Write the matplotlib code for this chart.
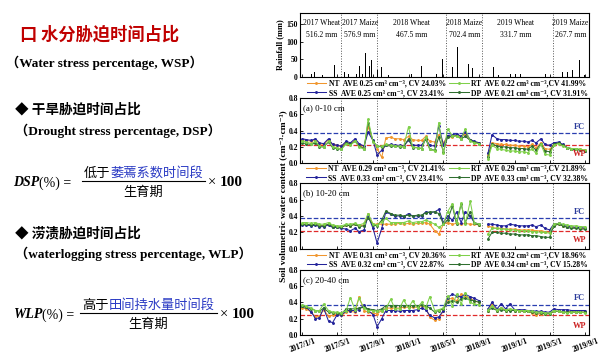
import numpy as np
import pandas as pd
import matplotlib
matplotlib.use("Agg")
import matplotlib.pyplot as plt
import matplotlib.dates as mdates
from matplotlib.lines import Line2D

plt.rcParams['font.family'] = ['Liberation Serif', 'DejaVu Serif', 'Noto Sans CJK SC']
nan = np.nan

# ---- data ----
dates = pd.to_datetime([f"{y}-{m:02d}-{d:02d}" for y in (2017, 2018, 2019)
                        for m in range(1, 13) for d in (1, 15)])
dates = dates[dates <= "2019-09-01"]

rain_dates = pd.to_datetime([
    "2016-12-26", "2017-02-01", "2017-02-12", "2017-03-12", "2017-03-30", "2017-04-21",
    "2017-04-27", "2017-05-11", "2017-05-25", "2017-05-31", "2017-06-09", "2017-06-28",
    "2017-07-06", "2017-07-17", "2017-07-26", "2017-08-06", "2017-08-15", "2017-08-20",
    "2017-08-26", "2017-09-11", "2017-09-17", "2017-09-25", "2017-10-01", "2017-10-24",
    "2017-12-20", "2018-01-12", "2018-02-15", "2018-02-27", "2018-03-05", "2018-03-22",
    "2018-04-08", "2018-04-19", "2018-04-27", "2018-05-06", "2018-05-24", "2018-06-02",
    "2018-06-10", "2018-06-19", "2018-06-27", "2018-07-14", "2018-07-26", "2018-08-01",
    "2018-08-09", "2018-08-24", "2018-09-04", "2018-10-20", "2018-11-06", "2018-11-18",
    "2018-12-05", "2018-12-17", "2019-01-03", "2019-01-20", "2019-02-16", "2019-03-02",
    "2019-03-19", "2019-04-05", "2019-04-17", "2019-05-20", "2019-06-05", "2019-06-14",
    "2019-07-01", "2019-07-10", "2019-07-19", "2019-07-24", "2019-08-11", "2019-08-17",
    "2019-08-28"])
rain_mm = [25, 8, 13, 5, 36, 33,
           15, 25, 15, 48, 10, 50,
           10, 30, 10, 68, 56, 30,
           48, 115, 20, 20, 28, 5,
           30, 8, 32, 27, 15, 15,
           10, 50, 50, 43, 17, 28,
           160, 85, 35, 20, 38, 120,
           25, 8, 15, 28, 5, 10,
           12, 8, 10, 8, 12, 8,
           8, 15, 10, 118, 18, 15,
           15, 25, 20, 60, 47, 10,
           5]

seasons = ["2017 Wheat", "2017 Maize", "2018 Wheat", "2018 Maize", "2019 Wheat", "2019 Maize"]
season_rain = ["516.2 mm", "576.9 mm", "467.5 mm", "702.4 mm", "331.7 mm", "267.7 mm"]
season_mid = pd.to_datetime(["2017-03-07", "2017-07-17", "2018-01-12",
                             "2018-07-12", "2019-01-03", "2019-07-12"])
season_breaks = pd.to_datetime(["2017-05-14", "2017-09-14", "2018-05-10",
                                "2018-09-10", "2019-05-14"])

treatments = ["NT", "SS", "RT", "DP"]

a_nt = [0.29, 0.28, 0.27, 0.29, 0.24, 0.23, 0.29, 0.23, 0.22, 0.20, 0.26, 0.24, 0.28, 0.22, 0.19, 0.45, 0.27,
        0.18, 0.07, 0.31, 0.32, 0.30, 0.30, 0.29, 0.33, 0.29, 0.28, 0.28, 0.33, 0.27, 0.26, 0.35, 0.25, 0.33,
        0.32, 0.35, 0.32, 0.36, 0.28, 0.26, 0.25, nan, 0.10, 0.25, 0.24, 0.23, 0.23, 0.22, 0.22, 0.21, 0.21,
        0.20, 0.23, 0.19, 0.25, 0.18, 0.17, 0.23, 0.25, 0.22, 0.19, 0.18, 0.17, 0.17, 0.16]
a_ss = [0.30, 0.29, 0.28, 0.30, 0.25, 0.24, 0.30, 0.23, 0.22, 0.21, 0.27, 0.25, 0.30, 0.24, 0.21, 0.38, 0.28,
        0.10, 0.16, 0.22, 0.23, 0.22, 0.22, 0.21, 0.28, 0.22, 0.22, 0.22, 0.30, 0.22, 0.21, 0.46, 0.22, 0.34,
        0.35, 0.36, 0.33, 0.38, 0.29, 0.27, 0.25, nan, 0.12, 0.35, 0.30, 0.29, 0.29, 0.28, 0.28, 0.27, 0.27,
        0.26, 0.28, 0.25, 0.30, 0.23, 0.22, 0.25, 0.26, 0.23, 0.19, 0.18, 0.17, 0.16, 0.15]
a_rt = [0.27, 0.26, 0.24, 0.27, 0.21, 0.20, 0.27, 0.20, 0.19, 0.17, 0.24, 0.22, 0.27, 0.20, 0.17, 0.54, 0.26,
        0.21, 0.21, 0.23, 0.22, 0.21, 0.21, 0.20, 0.45, 0.20, 0.19, 0.18, 0.32, 0.17, 0.15, 0.50, 0.12, 0.42,
        0.34, 0.33, 0.30, 0.42, 0.27, 0.25, 0.24, nan, 0.05, 0.22, 0.18, 0.17, 0.16, 0.15, 0.15, 0.14, 0.14,
        0.13, 0.18, 0.12, 0.23, 0.11, 0.10, 0.22, 0.24, 0.21, 0.19, 0.18, 0.18, 0.17, 0.16]
a_dp = [0.25, 0.24, 0.23, 0.25, 0.20, 0.20, 0.26, 0.19, 0.18, 0.17, 0.25, 0.23, 0.27, 0.21, 0.18, 0.50, 0.27,
        0.21, 0.20, 0.22, 0.21, 0.21, 0.20, 0.20, 0.30, 0.19, 0.19, 0.18, 0.30, 0.17, 0.16, 0.32, 0.14, 0.32,
        0.33, 0.34, 0.30, 0.33, 0.28, 0.26, 0.24, nan, 0.08, 0.24, 0.21, 0.20, 0.20, 0.19, 0.19, 0.18, 0.18,
        0.17, 0.21, 0.16, 0.24, 0.15, 0.14, 0.23, 0.25, 0.22, 0.19, 0.17, 0.17, 0.16, 0.15]

b_nt = [0.30, 0.30, 0.29, 0.30, 0.28, 0.28, 0.30, 0.27, 0.27, 0.26, 0.29, 0.28, 0.30, 0.28, 0.29, 0.42, 0.30,
        0.30, 0.30, 0.30, 0.30, 0.30, 0.31, 0.30, 0.31, 0.30, 0.31, 0.31, 0.32, 0.30, 0.22, 0.18, 0.30, 0.32,
        0.30, 0.31, 0.30, 0.31, 0.30, 0.30, 0.29, nan, 0.28, 0.26, 0.25, 0.25, 0.24, 0.24, 0.24, 0.23, 0.23,
        0.23, 0.23, 0.22, 0.22, 0.21, 0.20, 0.29, 0.30, 0.28, 0.27, 0.26, 0.26, 0.25, 0.25]
b_ss = [0.29, 0.29, 0.28, 0.29, 0.27, 0.27, 0.29, 0.26, 0.26, 0.25, 0.24, 0.22, 0.25, 0.21, 0.23, 0.40, 0.25,
        0.07, 0.25, 0.45, 0.42, 0.40, 0.40, 0.39, 0.43, 0.40, 0.40, 0.40, 0.45, 0.44, 0.45, 0.48, 0.32, 0.40,
        0.35, 0.45, 0.32, 0.45, 0.40, 0.32, 0.30, nan, 0.30, 0.30, 0.29, 0.28, 0.28, 0.30, 0.29, 0.28, 0.28,
        0.28, 0.29, 0.27, 0.29, 0.25, 0.23, 0.30, 0.31, 0.29, 0.27, 0.27, 0.26, 0.26, 0.25]
b_rt = [0.32, 0.32, 0.31, 0.32, 0.30, 0.30, 0.32, 0.29, 0.28, 0.28, 0.30, 0.30, 0.31, 0.29, 0.31, 0.43, 0.30,
        0.29, 0.33, 0.37, 0.32, 0.32, 0.32, 0.32, 0.34, 0.32, 0.33, 0.33, 0.35, 0.33, 0.30, 0.26, 0.30, 0.45,
        0.55, 0.32, 0.56, 0.30, 0.58, 0.32, 0.30, nan, 0.18, 0.25, 0.25, 0.24, 0.24, 0.23, 0.23, 0.22, 0.22,
        0.22, 0.21, 0.21, 0.20, 0.20, 0.19, 0.30, 0.31, 0.30, 0.29, 0.28, 0.28, 0.27, 0.27]
b_dp = [0.30, 0.30, 0.29, 0.30, 0.28, 0.28, 0.30, 0.27, 0.27, 0.26, 0.29, 0.28, 0.30, 0.27, 0.28, 0.38, 0.29,
        0.28, 0.35, 0.46, 0.43, 0.41, 0.41, 0.40, 0.41, 0.40, 0.41, 0.41, 0.44, 0.45, 0.45, 0.43, 0.30, 0.35,
        0.52, 0.30, 0.55, 0.32, 0.45, 0.31, 0.29, nan, 0.12, 0.20, 0.20, 0.19, 0.19, 0.18, 0.18, 0.17, 0.17,
        0.17, 0.16, 0.16, 0.15, 0.14, 0.14, 0.28, 0.30, 0.28, 0.26, 0.25, 0.25, 0.24, 0.24]

c_nt = [0.33, 0.32, 0.28, 0.22, 0.23, 0.31, 0.23, 0.24, 0.26, 0.24, 0.28, 0.29, 0.28, 0.47, 0.30, 0.28, 0.27,
        0.26, 0.30, 0.33, 0.33, 0.33, 0.33, 0.34, 0.34, 0.34, 0.34, 0.36, 0.34, 0.22, 0.18, 0.20, 0.30, 0.44,
        0.45, 0.42, 0.50, 0.48, 0.45, 0.42, 0.40, nan, 0.30, 0.38, 0.30, 0.33, 0.30, 0.31, 0.30, 0.30, 0.29,
        0.29, 0.27, 0.25, 0.26, 0.26, 0.26, 0.29, 0.29, 0.28, 0.28, 0.29, 0.28, 0.28, 0.28]
c_ss = [0.35, 0.34, 0.28, 0.20, 0.21, 0.33, 0.17, 0.15, 0.25, 0.24, 0.30, 0.30, 0.30, 0.31, 0.37, 0.30, 0.25,
        0.10, 0.20, 0.30, 0.30, 0.30, 0.29, 0.30, 0.30, 0.30, 0.31, 0.33, 0.31, 0.24, 0.21, 0.22, 0.30, 0.46,
        0.50, 0.48, 0.47, 0.50, 0.47, 0.45, 0.42, nan, 0.32, 0.40, 0.32, 0.38, 0.32, 0.38, 0.31, 0.31, 0.31,
        0.30, 0.30, 0.29, 0.29, 0.28, 0.28, 0.32, 0.31, 0.31, 0.31, 0.30, 0.30, 0.30, 0.30]
c_rt = [0.37, 0.35, 0.33, 0.30, 0.30, 0.38, 0.30, 0.28, 0.28, 0.27, 0.30, 0.46, 0.31, 0.45, 0.33, 0.30, 0.30,
        0.29, 0.30, 0.32, 0.44, 0.32, 0.32, 0.43, 0.33, 0.42, 0.33, 0.40, 0.33, 0.47, 0.30, 0.31, 0.33, 0.48,
        0.36, 0.50, 0.38, 0.52, 0.40, 0.38, 0.37, nan, 0.31, 0.35, 0.31, 0.33, 0.31, 0.32, 0.31, 0.30, 0.30,
        0.30, 0.29, 0.28, 0.28, 0.27, 0.27, 0.30, 0.29, 0.28, 0.27, 0.28, 0.28, 0.28, 0.27]
c_dp = [0.35, 0.34, 0.32, 0.30, 0.29, 0.33, 0.28, 0.27, 0.27, 0.26, 0.32, 0.32, 0.32, 0.33, 0.34, 0.32, 0.31,
        0.30, 0.32, 0.36, 0.36, 0.36, 0.36, 0.36, 0.36, 0.36, 0.36, 0.37, 0.36, 0.33, 0.28, 0.30, 0.32, 0.40,
        0.42, 0.40, 0.44, 0.45, 0.43, 0.42, 0.40, nan, 0.30, 0.33, 0.30, 0.31, 0.30, 0.30, 0.30, 0.30, 0.29,
        0.29, 0.28, 0.27, 0.27, 0.26, 0.26, 0.29, 0.29, 0.28, 0.28, 0.28, 0.28, 0.28, 0.28]

panel_titles = ["(a) 0-10 cm", "(b) 10-20 cm", "(c) 20-40 cm"]
fc_values = [0.37, 0.37, 0.37]
wp_values = [0.22, 0.22, 0.24]
ave_values = [[0.25, 0.25, 0.22, 0.21], [0.29, 0.33, 0.29, 0.33], [0.31, 0.32, 0.32, 0.34]]
cv_values = [[24.03, 23.41, 41.99, 31.91], [21.41, 23.41, 21.89, 32.38], [20.36, 22.87, 18.96, 15.28]]

colors = {"NT": "#f0962e", "SS": "#22229a", "RT": "#7fd04a", "DP": "#2f6e2f"}

# ---- figure ----
fig = plt.figure(figsize=(6, 3.57), dpi=100)
W, H = 600, 357


def px(x, y):
    return x / W, 1 - y / H


xlim = (pd.Timestamp("2016-12-24"), pd.Timestamp("2019-09-14"))
tick_dates = pd.to_datetime(["2017-01-01", "2017-05-01", "2017-09-01", "2018-01-01", "2018-05-01",
                             "2018-09-01", "2019-01-01", "2019-05-01", "2019-09-01"])


def style_axis(ax):
    ax.set_xlim(*xlim)
    ax.set_xticks(tick_dates)
    ax.tick_params(direction="in", length=2, width=0.6, labelsize=5.5, pad=1.5)
    for lab in ax.get_yticklabels():
        lab.set_fontweight("bold")
    for sp in ax.spines.values():
        sp.set_linewidth(0.8)
    for d in season_breaks:
        ax.axvline(d, color="#555555", ls=":", lw=0.7, zorder=1)


# rainfall
ax_r = fig.add_axes([0.5, 0.784, 0.482, 0.180])
ax_r.bar(rain_dates, rain_mm, width=2.0, color="black", zorder=3)
ax_r.set_ylim(0, 181)
ax_r.set_yticks([0, 50, 100, 150])
style_axis(ax_r)
ax_r.set_xticklabels([])
ax_r.set_ylabel("Rainfall (mm)", fontsize=6, fontweight="bold", labelpad=2)
for d, s, r in zip(season_mid, seasons, season_rain):
    ax_r.text(d, 152, s, ha="center", va="center", fontsize=5.5)
    ax_r.text(d, 120, r, ha="center", va="center", fontsize=5.5)

# soil moisture panels
panel_data = [(a_nt, a_ss, a_rt, a_dp), (b_nt, b_ss, b_rt, b_dp), (c_nt, c_ss, c_rt, c_dp)]
rects = [[0.5, 0.543, 0.482, 0.182], [0.5, 0.303, 0.482, 0.184], [0.5, 0.062, 0.482, 0.182]]
for i, (rect, series) in enumerate(zip(rects, panel_data)):
    ax = fig.add_axes(rect)
    handles = {}
    for name in ["NT", "SS", "DP", "RT"]:
        vals = series[treatments.index(name)]
        ln, = ax.plot(dates, vals, color=colors[name], lw=0.75, marker="o", ms=1.1, zorder=3)
        handles[name] = ln
    ax.axhline(fc_values[i], color="#2a3fb0", ls="--", lw=0.9, zorder=2)
    ax.axhline(wp_values[i], color="#e02a2a", ls="--", lw=0.9, zorder=2)
    ax.text(pd.Timestamp("2019-08-12"), 0.45, "FC", color="#2a3a9a", fontsize=6,
            fontweight="bold", ha="center", va="center")
    ax.text(pd.Timestamp("2019-08-12"), 0.11, "WP", color="#cc2222", fontsize=6,
            fontweight="bold", ha="center", va="center")
    ax.text(0.012, 0.84, panel_titles[i], transform=ax.transAxes, fontsize=6.5, va="center")
    ax.set_ylim(0, 0.8)
    ax.set_yticks([0.0, 0.2, 0.4, 0.6, 0.8])
    ax.set_yticklabels(["0.0", "0.2", "0.4", "0.6", "0.8"])
    style_axis(ax)
    if i < 2:
        ax.set_xticklabels([])
    else:
        ax.set_xticklabels([d.strftime("%Y/%-m/%-d") for d in tick_dates],
                           rotation=20, ha="center", fontweight="bold")
    labels = []
    for j, name in enumerate(treatments):
        sep = "," if name == "RT" else ", "
        labels.append(f"{name}  AVE {ave_values[i][j]:.2f} cm³ cm⁻³{sep}CV {cv_values[i][j]:.2f}%")
    leg = ax.legend([handles[n] for n in treatments], labels, loc="lower right",
                    bbox_to_anchor=(1.0, 1.0), ncol=2, frameon=False,
                    handlelength=2.6, handletextpad=0.3, columnspacing=0.4,
                    labelspacing=0.15, borderpad=0.05, borderaxespad=0.1,
                    prop={"weight": "bold", "size": 5.5})

fig.text(*px(283, 196), "Soil volumetric water content (cm⁻³·cm⁻³)", rotation=90,
         ha="center", va="center", fontsize=6.8, fontweight="bold")

# ---- left text ----
cjk = ["Noto Sans CJK SC", "DejaVu Sans"]
serif = ["Liberation Serif", "Noto Sans CJK SC"]

fig.text(*px(20, 35), "口 水分胁迫时间占比", family=cjk, fontsize=12.4, fontweight="bold",
         color="#c00000", va="center")
fig.text(*px(6, 63), "（Water stress percentage, WSP）", family=serif, fontsize=9.5,
         fontweight="bold", va="center")
fig.text(*px(15, 110), "◆ 干旱胁迫时间占比", family=cjk, fontsize=9.8, fontweight="bold",
         va="center")
fig.text(*px(15, 131), "（Drought stress percentage, DSP）", family=serif, fontsize=9.5,
         fontweight="bold", va="center")
fig.text(*px(15, 233), "◆ 涝渍胁迫时间占比", family=cjk, fontsize=9.8, fontweight="bold",
         va="center")
fig.text(*px(15, 254), "（waterlogging stress percentage, WLP）", family=serif, fontsize=9.5,
         fontweight="bold", va="center")

renderer = fig.canvas.get_renderer()


def run_text(x, y, parts, ha="left"):
    # draw pieces of text one after another on one line
    texts = []
    cur = x / W
    for s, kw in parts:
        t = fig.text(cur, 1 - y / H, s, va="center", **kw)
        bb = t.get_window_extent(renderer)
        cur += bb.width / (W * fig.dpi / 100)
        texts.append(t)
    width = cur - x / W
    if ha == "center":
        for t in texts:
            t.set_x(t.get_position()[0] - width / 2)
    return texts


def formula(y, name, num_black, num_blue, x_line0, x_line1, x_times):
    run_text(13, y, [(name, dict(family="Liberation Serif", fontsize=10, fontweight="bold",
                                 style="italic")),
                     ("(%) = ", dict(family="Liberation Serif", fontsize=10))])
    cx = (x_line0 + x_line1) / 2
    run_text(cx, y - 10, [(num_black, dict(family=cjk, fontsize=9.5)),
                          (num_blue, dict(family=cjk, fontsize=9.5, color="#2b3bc4"))], ha="center")
    fig.add_artist(Line2D([x_line0 / W, x_line1 / W], [1 - (y - 2) / H] * 2, color="black", lw=0.8))
    run_text(cx, y + 9, [("生育期", dict(family=cjk, fontsize=9.5))], ha="center")
    run_text(x_times, y, [("× ", dict(family="Liberation Serif", fontsize=10.5)),
                          ("100", dict(family="Liberation Serif", fontsize=11, fontweight="bold"))])


formula(183, "DSP", "低于", "萎蔫系数时间段", 82, 205, 208)
formula(315, "WLP", "高于", "田间持水量时间段", 80, 217, 220)

fig.savefig("out.png", dpi=100)
